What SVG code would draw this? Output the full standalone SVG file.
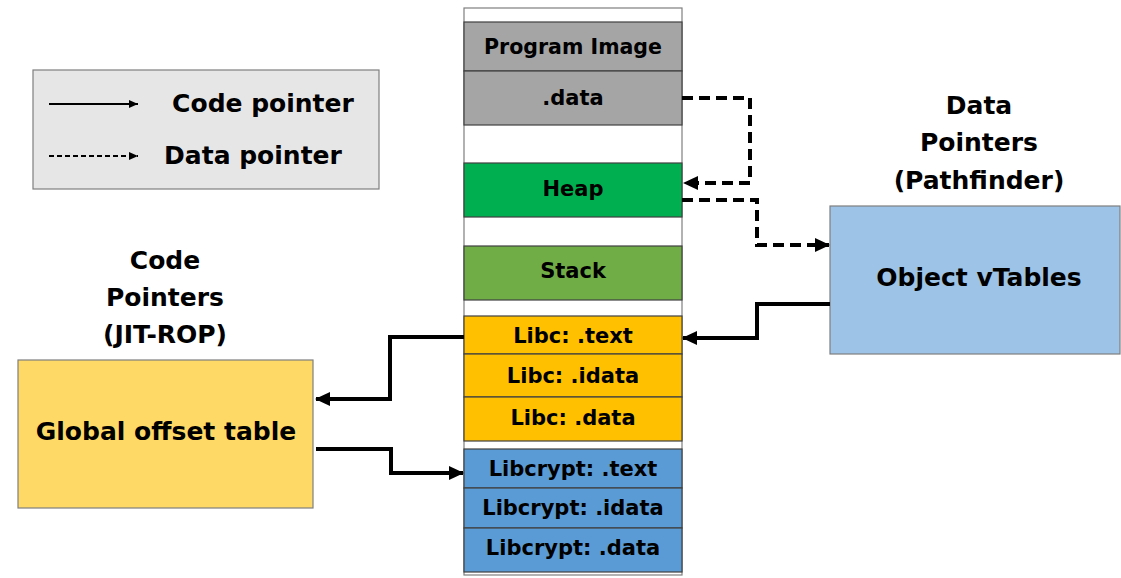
<svg xmlns="http://www.w3.org/2000/svg" width="1121" height="578" viewBox="0 0 1121 578">
<style>
text{font-family:"DejaVu Sans","Liberation Sans",sans-serif;font-weight:bold;fill:#000;text-anchor:middle}
.m{font-size:21px}
.b{font-size:25px}
.seg{stroke:#404040;stroke-width:1.2}
.c{fill:none;stroke:#000;stroke-width:4}
.d{fill:none;stroke:#000;stroke-width:4;stroke-dasharray:11 6}
</style>
<defs>
<marker id="ah" markerUnits="userSpaceOnUse" markerWidth="16" markerHeight="14" refX="14" refY="7" orient="auto">
<path d="M0,0 L15,7 L0,14 Z" fill="#000"/>
</marker>
<marker id="ahs" markerUnits="userSpaceOnUse" markerWidth="10" markerHeight="10" refX="9" refY="5" orient="auto">
<path d="M0,1 L9,5 L0,9 Z" fill="#000"/>
</marker>
</defs>
<rect width="1121" height="578" fill="#fff"/>

<g id="legend">
<rect x="33" y="70" width="346" height="119" fill="#e7e6e6" stroke="#7f7f7f" stroke-width="1.2"/>
<line x1="49" y1="104" x2="138" y2="104" stroke="#000" stroke-width="2.2" marker-end="url(#ahs)"/>
<text class="b" x="263" y="112">Code pointer</text>
<line x1="49" y1="156" x2="138" y2="156" stroke="#000" stroke-width="2.2" stroke-dasharray="5 3" marker-end="url(#ahs)"/>
<text class="b" x="253" y="164">Data pointer</text>
</g>

<g id="memory">
<rect x="464" y="8" width="218" height="567" fill="#fff" stroke="#7f7f7f" stroke-width="1.2"/>
<g id="program-image"><rect class="seg" x="464" y="22" width="218" height="49" fill="#a5a5a5"/><text class="m" x="573" y="54" textLength="178" lengthAdjust="spacingAndGlyphs">Program Image</text></g>
<g id="prog-data"><rect class="seg" x="464" y="71" width="218" height="54" fill="#a5a5a5"/><text class="m" x="573" y="105">.data</text></g>
<g id="heap"><rect class="seg" x="464" y="163" width="218" height="54" fill="#00b050"/><text class="m" x="573" y="196">Heap</text></g>
<g id="stack"><rect class="seg" x="464" y="246" width="218" height="54" fill="#70ad47"/><text class="m" x="573" y="278">Stack</text></g>
<g id="libc-text"><rect class="seg" x="464" y="316" width="218" height="38" fill="#ffc000"/><text class="m" x="573" y="343">Libc: .text</text></g>
<g id="libc-idata"><rect class="seg" x="464" y="354" width="218" height="43" fill="#ffc000"/><text class="m" x="573" y="383">Libc: .idata</text></g>
<g id="libc-data"><rect class="seg" x="464" y="397" width="218" height="44" fill="#ffc000"/><text class="m" x="573" y="425">Libc: .data</text></g>
<g id="libcrypt-text"><rect class="seg" x="464" y="449" width="218" height="39" fill="#5b9bd5"/><text class="m" x="573" y="476">Libcrypt: .text</text></g>
<g id="libcrypt-idata"><rect class="seg" x="464" y="488" width="218" height="40" fill="#5b9bd5"/><text class="m" x="573" y="515">Libcrypt: .idata</text></g>
<g id="libcrypt-data"><rect class="seg" x="464" y="528" width="218" height="44" fill="#5b9bd5"/><text class="m" x="573" y="555">Libcrypt: .data</text></g>
</g>

<g id="got">
<rect x="18" y="360" width="295" height="148" fill="#ffd966" stroke="#7f7f7f" stroke-width="1.2"/>
<text class="b" x="166" y="440">Global offset table</text>
</g>
<g id="code-label">
<text class="b" x="165" y="269">Code</text>
<text class="b" x="165" y="306">Pointers</text>
<text class="b" x="165" y="343">(JIT-ROP)</text>
</g>

<g id="vtables">
<rect x="830" y="206" width="290" height="148" fill="#9dc3e6" stroke="#7f7f7f" stroke-width="1.2"/>
<text class="b" x="979" y="286">Object vTables</text>
</g>
<g id="data-label">
<text class="b" x="979" y="114">Data</text>
<text class="b" x="979" y="151">Pointers</text>
<text class="b" x="979" y="189">(Pathfinder)</text>
</g>

<g id="connectors">
<path class="d" d="M682,98 H750 V183 H684" marker-end="url(#ah)"/>
<path class="d" d="M682,200 H757 V245 H829" marker-end="url(#ah)"/>
<path class="c" d="M830,304 H757 V338 H683" marker-end="url(#ah)"/>
<path class="c" d="M464,337 H390 V399 H316" marker-end="url(#ah)"/>
<path class="c" d="M316,449 H391 V473 H463" marker-end="url(#ah)"/>
</g>
</svg>
